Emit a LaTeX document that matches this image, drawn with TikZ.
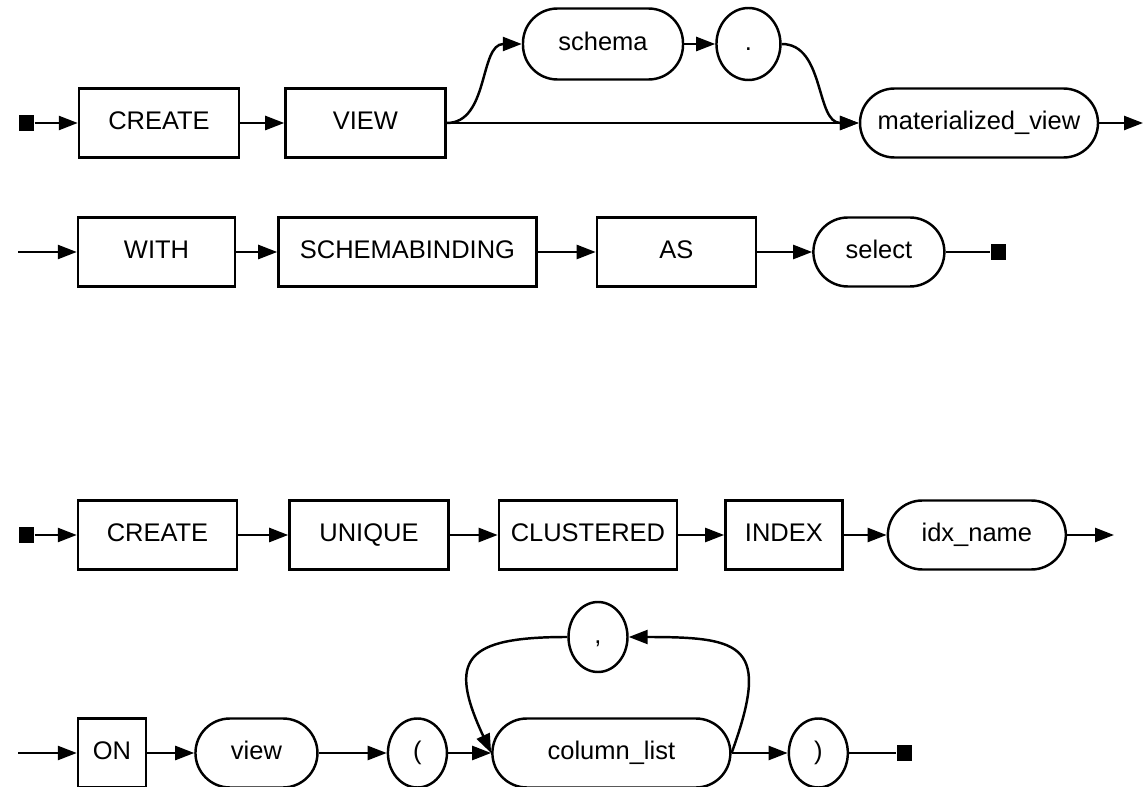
\documentclass[tikz,border=0pt]{standalone}
\usepackage{fontspec}
\setmainfont{Liberation Sans}
\usetikzlibrary{shapes.geometric, arrows.meta, positioning}

\begin{document}
\begin{tikzpicture}[node distance=1cm, auto, >={Triangle[length=0.38cm,width=0.28cm]}, line width=1.4pt]

% Styles
\tikzstyle{keyword} = [rectangle, minimum width=3.2cm, minimum height=1.38cm, text height=0.72em, text depth=0pt, text centered, draw=black, font=\fontsize{14.5}{17}\selectfont]
\tikzstyle{ident} = [rectangle, rounded corners=0.69cm, minimum width=3.2cm, minimum height=1.38cm, text height=0.72em, text depth=0pt, text centered, draw=black, font=\fontsize{14.5}{17}\selectfont]
\tikzstyle{punct} = [ellipse, minimum width=1.18cm, minimum height=1.38cm, inner sep=0pt, text height=0.72em, text depth=0pt, draw=black, font=\fontsize{14.5}{17}\selectfont]
\tikzstyle{endmark} = [rectangle, fill=black, minimum width=0.3cm, minimum height=0.32cm, inner sep=0pt]
\tikzstyle{arrow} = [->]
\tikzstyle{line} = [-]

\useasboundingbox (0,0) rectangle (22.88,-15.74);

% --- Nodes ---

% 1. CREATE VIEW
\node (start1) [endmark] at (0.52,-2.46) {};
\node (create1) [keyword] at (3.18,-2.46) {CREATE};
\node (view1) [keyword, right=0.88cm of create1] {VIEW};
\node (schema) [ident, minimum height=1.42cm] at (12.06,-0.88) {schema};
\node (dot) [punct, minimum width=1.28cm, minimum height=1.44cm, right=0.62cm of schema] {.};
\node (matview) [ident, minimum width=4.76cm] at (19.58,-2.46) {materialized\_view};
\coordinate (end1) at (22.86,-2.46);

% 2. WITH SCHEMABINDING AS
\coordinate (begin2) at (0.36,-5.04);
\node (with) [keyword, minimum width=3.14cm] at (3.13,-5.04) {WITH};
\node (schemabind) [keyword, minimum width=5.16cm, right=0.82cm of with] {SCHEMABINDING};
\node (as) [keyword, minimum width=3.18cm, right=1.16cm of schemabind] {AS};
\node (select) [ident, minimum width=2.62cm, right=1.10cm of as] {select};
\node (stop2) [endmark, right=0.88cm of select] {};

% 3. CREATE UNIQUE CLUSTERED INDEX
\node (start3) [endmark] at (0.52,-10.70) {};
\node (create3) [keyword, minimum width=3.18cm] at (3.15,-10.70) {CREATE};
\node (unique) [keyword, minimum width=3.18cm, right=1.0cm of create3] {UNIQUE};
\node (clustered) [keyword, minimum width=3.56cm, right=0.96cm of unique] {CLUSTERED};
\node (index) [keyword, minimum width=2.34cm, right=0.92cm of clustered] {INDEX};
\node (idxname) [ident, minimum width=3.56cm, right=0.86cm of index] {idx\_name};
\coordinate (end3) at (22.28,-10.70);

% 4. ON view ( column_list )
\coordinate (begin4) at (0.36,-15.06);
\node (on) [keyword, minimum width=1.36cm] at (2.24,-15.06) {ON};
\node (view4) [ident, minimum width=2.44cm, right=0.94cm of on] {view};
\node (lparen) [punct, right=1.36cm of view4] {(};
\node (collist) [ident, minimum width=4.76cm, right=0.86cm of lparen] {column\_list};
\node (rparen) [punct, right=1.12cm of collist] {)};
\node (stop4) [endmark, right=0.94cm of rparen] {};
\node (comma) [punct, minimum height=1.40cm] at (11.96,-12.74) {,};

% --- Arrows ---
\draw[arrow] (start1) -- (create1);
\draw[arrow] (create1) -- (view1);
\draw[arrow] (view1) -- (matview);
\draw[arrow] (view1.east) to[out=0, in=180] (schema.west);
\draw[arrow] (schema) -- (dot);
\draw[arrow] (dot.east) to[out=0, in=180] (matview.west);
\draw[arrow] (matview) -- (end1);

\draw[arrow] (begin2) -- (with);
\draw[arrow] (with) -- (schemabind);
\draw[arrow] (schemabind) -- (as);
\draw[arrow] (as) -- (select);
\draw[line] (select) -- (stop2);

\draw[arrow] (start3) -- (create3);
\draw[arrow] (create3) -- (unique);
\draw[arrow] (unique) -- (clustered);
\draw[arrow] (clustered) -- (index);
\draw[arrow] (index) -- (idxname);
\draw[arrow] (idxname) -- (end3);

\draw[arrow] (begin4) -- (on);
\draw[arrow] (on) -- (view4);
\draw[arrow] (view4) -- (lparen);
\draw[arrow] (lparen) -- (collist);
\draw[arrow] (collist) -- (rparen);
\draw[line] (rparen) -- (stop4);

% --- Repeat loop ---
\draw[arrow] (collist.east) to[out=70, in=0, looseness=1.9] (comma.east);
\draw[arrow] (comma.west) to[out=180, in=115, looseness=1.9] (collist.west);

\end{tikzpicture}
\end{document}
